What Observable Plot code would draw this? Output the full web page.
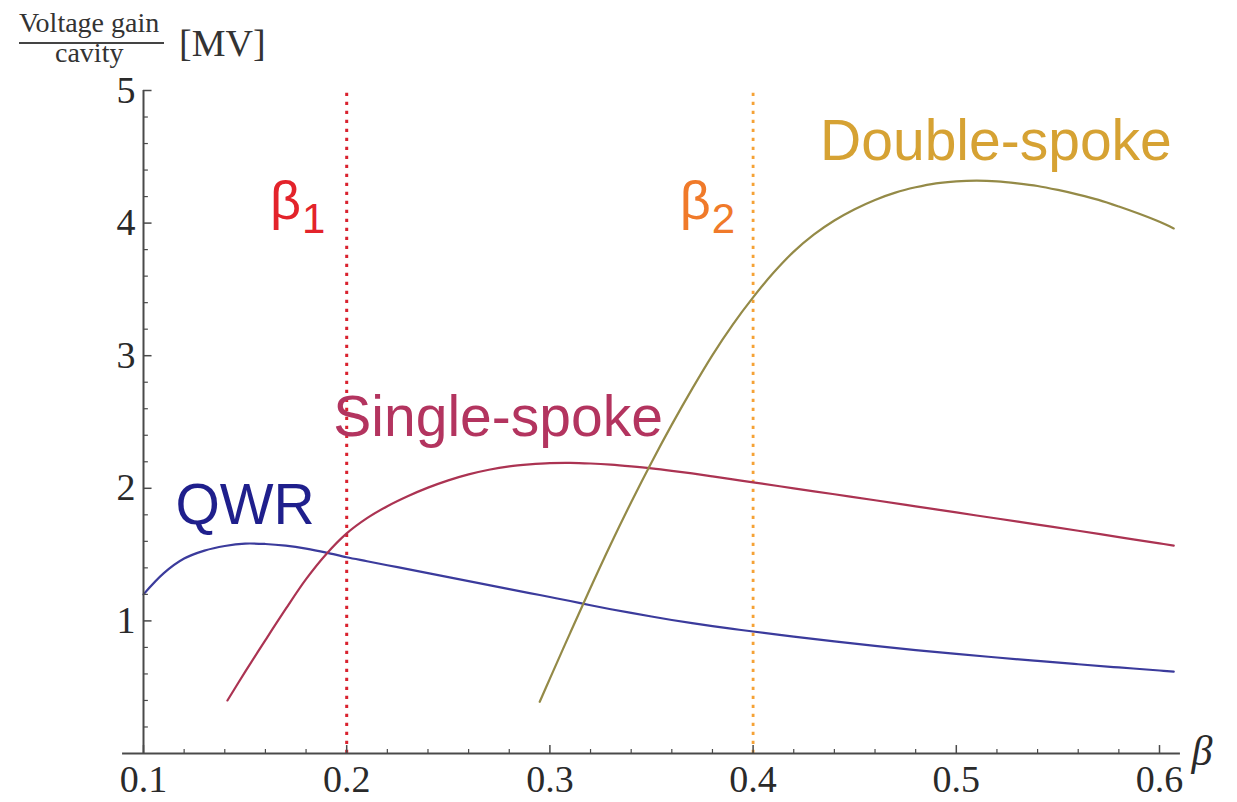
<!DOCTYPE html>
<html>
<head>
<meta charset="utf-8">
<script src="https://cdn.jsdelivr.net/npm/d3@7"></script>
<script src="https://cdn.jsdelivr.net/npm/@observablehq/plot@0.6"></script>
<style>
  html, body { margin: 0; padding: 0; background: #fff; }
  #wrap { width: 1237px; }
  #title { position: relative; height: 70px; font-family: "Liberation Serif", "Times New Roman", serif; color: #333; }
  #title span { position: absolute; white-space: nowrap; }
  #num { left: 19px; top: 10px; font-size: 28px; line-height: 26px; }
  #bar { position: absolute; left: 19px; top: 42px; width: 145px; height: 1.5px; background: #444; }
  #den { left: 55px; top: 40px; font-size: 28px; line-height: 26px; }
  #unit { left: 179px; top: 24px; font-size: 38px; line-height: 38px; }
</style>
</head>
<body>
<div id="wrap">
  <div id="title">
    <span id="num">Voltage gain</span>
    <div id="bar"></div>
    <span id="den">cavity</span>
    <span id="unit">[MV]</span>
  </div>
  <div id="chart"></div>
</div>
<script>
// ---- data ----
const betaQWR = [0.10,0.11,0.12,0.13,0.14,0.15,0.16,0.17,0.18,0.19,0.20,0.21,0.22,0.23,0.24,0.25,0.26,0.27,0.28,0.29,0.30,0.31,0.32,0.33,0.34,0.35,0.36,0.37,0.38,0.39,0.40,0.42,0.44,0.46,0.48,0.50,0.52,0.54,0.56,0.58,0.60,0.607];
const gainQWR = [1.20,1.36,1.47,1.53,1.565,1.583,1.58,1.567,1.545,1.515,1.48,1.45,1.42,1.39,1.36,1.33,1.30,1.27,1.24,1.21,1.18,1.15,1.118,1.088,1.06,1.033,1.007,0.983,0.961,0.94,0.92,0.882,0.846,0.812,0.78,0.751,0.724,0.698,0.673,0.649,0.626,0.618];

const betaSingle = [0.1413,0.15,0.16,0.17,0.18,0.19,0.20,0.21,0.22,0.23,0.24,0.25,0.26,0.27,0.28,0.29,0.30,0.31,0.32,0.33,0.34,0.35,0.36,0.37,0.38,0.39,0.40,0.42,0.44,0.46,0.48,0.50,0.52,0.54,0.56,0.58,0.60,0.607];
const gainSingle = [0.40,0.615,0.855,1.09,1.315,1.505,1.66,1.775,1.865,1.94,2.005,2.06,2.105,2.14,2.165,2.18,2.19,2.192,2.187,2.178,2.165,2.15,2.132,2.112,2.09,2.067,2.045,2.0,1.955,1.91,1.864,1.818,1.772,1.726,1.68,1.632,1.585,1.568];

const betaDouble = [0.295,0.30,0.31,0.32,0.33,0.34,0.35,0.36,0.37,0.38,0.39,0.40,0.41,0.42,0.43,0.44,0.45,0.46,0.47,0.48,0.49,0.50,0.51,0.52,0.53,0.54,0.55,0.56,0.57,0.58,0.59,0.60,0.607];
const gainDouble = [0.39,0.565,0.91,1.25,1.58,1.895,2.195,2.48,2.75,3.005,3.235,3.44,3.625,3.785,3.915,4.02,4.105,4.175,4.23,4.27,4.30,4.315,4.32,4.315,4.30,4.28,4.25,4.215,4.175,4.125,4.07,4.01,3.96];

const betaMarkers = [0.2, 0.4];           // beta_1, beta_2
const xMajorTicks = [0.1,0.2,0.3,0.4,0.5,0.6];
const xMinorTicks = [0.12,0.14,0.16,0.18,0.22,0.24,0.26,0.28,0.32,0.34,0.36,0.38,0.42,0.44,0.46,0.48,0.52,0.54,0.56,0.58];
const yMajorTicks = [1,2,3,4,5];
const yMinorTicks = [0.2,0.4,0.6,0.8,1.2,1.4,1.6,1.8,2.2,2.4,2.6,2.8,3.2,3.4,3.6,3.8,4.2,4.4,4.6,4.8];

// labels (data coordinates)
const seriesLabels = [
  {text: "QWR", x: 0.150, y: 1.87, color: "#1f1f8c"},
  {text: "Single-spoke", x: 0.2745, y: 2.53, color: "#b3345f"},
  {text: "Double-spoke", x: 0.5195, y: 4.61, color: "#d6a233"}
];
const betaLabels = [
  {sym: "β", sub: "1", x: 0.1622, y: 4.165, color: "#e3232b"},
  {sym: "β", sub: "2", x: 0.3639, y: 4.165, color: "#f07a2a"}
];

const toRows = (xs, ys) => xs.map((x, i) => ({x, y: ys[i]}));
const qwr = toRows(betaQWR, gainQWR);
const single = toRows(betaSingle, gainSingle);
const dbl = toRows(betaDouble, gainDouble);

const axisColor = "#4a4a4a";
const sans = "'Liberation Sans', Arial, sans-serif";
const serif = "'Liberation Serif', 'Times New Roman', serif";

const chart = Plot.plot({
  width: 1237,
  height: 732,
  marginLeft: 143,
  marginRight: 78,
  marginTop: 20,
  marginBottom: 49,
  x: {domain: [0.1, 0.6], axis: null},
  y: {domain: [0, 5], axis: null},
  style: {fontFamily: serif, background: "#fff", overflow: "visible"},
  marks: [
    // beta marker lines
    Plot.ruleX([betaMarkers[0]], {y1: 0, y2: 5, stroke: "#d9222f", strokeWidth: 3, strokeDasharray: "3.2,5.8"}),
    Plot.ruleX([betaMarkers[1]], {y1: 0, y2: 5, stroke: "#f5a236", strokeWidth: 2.8, strokeDasharray: "3.2,5.8"}),
    // curves
    Plot.line(qwr, {x: "x", y: "y", stroke: "#3b3b9c", strokeWidth: 2.2, curve: "catmull-rom"}),
    Plot.line(single, {x: "x", y: "y", stroke: "#ab3352", strokeWidth: 2.2, curve: "catmull-rom"}),
    Plot.line(dbl, {x: "x", y: "y", stroke: "#948a47", strokeWidth: 2.2, curve: "catmull-rom"}),
    // axis lines
    Plot.ruleY([0], {x1: 0.0897, x2: 0.6103, stroke: axisColor, strokeWidth: 2}),
    Plot.ruleX([0.1], {y1: 0, y2: 5, stroke: axisColor, strokeWidth: 2}),
    // ticks (inward)
    Plot.ruleX(xMajorTicks, {x: d => d, y1: 0, y2: 0.06, stroke: axisColor, strokeWidth: 1.5}),
    Plot.ruleX(xMinorTicks, {x: d => d, y1: 0, y2: 0.03, stroke: axisColor, strokeWidth: 1.2}),
    Plot.ruleY(yMajorTicks, {y: d => d, x1: 0.1, x2: 0.1042, stroke: axisColor, strokeWidth: 1.5}),
    Plot.ruleY(yMinorTicks, {y: d => d, x1: 0.1, x2: 0.1024, stroke: axisColor, strokeWidth: 1.2}),
    // tick labels
    Plot.axisX({ticks: xMajorTicks, tickSize: 0, tickPadding: 12, tickFormat: d3.format(".1f"), fontSize: 38, fill: "#2a2a2a", label: null}),
    Plot.axisY({ticks: yMajorTicks, tickSize: 0, tickPadding: 8, tickFormat: d3.format("d"), fontSize: 38, fill: "#2a2a2a", label: null}),
    // x axis title
    Plot.text(["β"], {frameAnchor: "bottom-right", dx: 32, dy: -2, text: d => d, textAnchor: "start", lineAnchor: "middle", fontSize: 42, fontStyle: "italic", fontFamily: serif, fill: "#2a2a2a"}),
    // series labels
    ...seriesLabels.map(l => Plot.text([l], {x: "x", y: "y", text: "text", fill: l.color, fontSize: 57, fontFamily: sans, textAnchor: "middle", lineAnchor: "middle"})),
    // beta labels (subscript added below as tspan)
    ...betaLabels.map(l => Plot.text([l], {x: "x", y: "y", text: d => d.sym + d.sub, fill: l.color, fontSize: 54, fontFamily: sans, textAnchor: "start", lineAnchor: "middle"}))
  ]
});

// turn "β1"/"β2" into β with a subscript
d3.select(chart).selectAll("text").each(function() {
  const t = this.textContent;
  const lab = betaLabels.find(l => l.sym + l.sub === t);
  if (!lab || this.querySelector("tspan")) return;
  const sel = d3.select(this);
  sel.text(null);
  sel.append("tspan").text(lab.sym);
  sel.append("tspan").attr("font-size", 42).attr("dx", 1).attr("dy", 14).text(lab.sub);
});

document.getElementById("chart").appendChild(chart);
</script>
</body>
</html>
